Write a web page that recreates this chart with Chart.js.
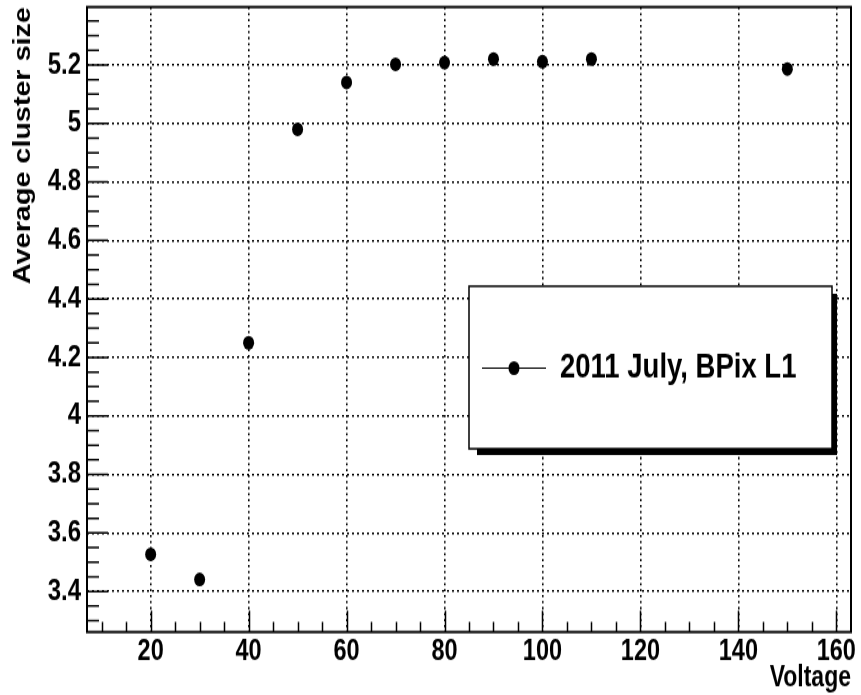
<!DOCTYPE html>
<html>
<head>
<meta charset="utf-8">
<script src="https://cdn.jsdelivr.net/npm/chart.js@4.4.1/dist/chart.umd.min.js"></script>
<style>
  html, body { margin: 0; padding: 0; background: #fff; }
</style>
</head>
<body>
<!-- the original plot was stretched vertically, so the canvas is drawn short and shown tall -->
<canvas id="mycanvas" width="861" height="556" style="display:block;width:861px;height:695px"></canvas>
<script>
// data
var voltage = [20, 30, 40, 50, 60, 70, 80, 90, 100, 110, 150];
var clusterSize = [3.527, 3.441, 4.25, 4.98, 5.14, 5.202, 5.208, 5.22, 5.211, 5.22, 5.186];
var seriesLabel = "2011 July, BPix L1";

var xTicks = [20, 40, 60, 80, 100, 120, 140, 160];
var yTicks = [3.4, 3.6, 3.8, 4, 4.2, 4.4, 4.6, 4.8, 5, 5.2];
var xMinorStep = 5;
var yMinorStep = 0.05;

var font = "'Liberation Sans', Arial, Helvetica, sans-serif";

var frameAndTicks = {
  id: 'frameAndTicks',
  afterDatasetsDraw: function(chart) {
    var ctx = chart.ctx, a = chart.chartArea;
    var xs = chart.scales.x, ys = chart.scales.y;
    ctx.save();
    ctx.strokeStyle = '#000';
    ctx.lineWidth = 1.5;
    ctx.beginPath();
    var v;
    for (v = Math.ceil(xs.min / xMinorStep) * xMinorStep; v <= xs.max; v += xMinorStep) {
      var px = Math.round(xs.getPixelForValue(v)) + 0.5;
      var len = xTicks.indexOf(v) >= 0 ? 17 : 8;
      ctx.moveTo(px, a.bottom);
      ctx.lineTo(px, a.bottom - len);
    }
    var n0 = Math.ceil(ys.min / yMinorStep), n1 = Math.floor(ys.max / yMinorStep);
    for (var n = n0; n <= n1; n++) {
      v = n * yMinorStep;
      var py = ys.getPixelForValue(v);
      var major = n % 4 === 0;
      ctx.moveTo(a.left, py);
      ctx.lineTo(a.left + (major ? 21 : 12), py);
    }
    ctx.stroke();
    ctx.lineWidth = 2;
    ctx.strokeRect(a.left, a.top, a.right - a.left, a.bottom - a.top);
    ctx.restore();
  }
};

var boxLegend = {
  id: 'boxLegend',
  afterDraw: function(chart) {
    var ctx = chart.ctx;
    var bx = 469, by = 229, bw = 363, bh = 130;
    ctx.save();
    ctx.fillStyle = '#000';
    ctx.fillRect(bx + 8, by + 6, bw - 3, bh - 1);
    ctx.fillStyle = '#fff';
    ctx.fillRect(bx, by, bw, bh);
    ctx.strokeStyle = '#000';
    ctx.lineWidth = 1.5;
    ctx.strokeRect(bx, by, bw, bh);
    var cy = by + 65.5;
    ctx.lineWidth = 1.2;
    ctx.beginPath();
    ctx.moveTo(bx + 13, cy);
    ctx.lineTo(bx + 77, cy);
    ctx.stroke();
    ctx.fillStyle = '#000';
    ctx.beginPath();
    ctx.arc(bx + 45, cy, 5.5, 0, Math.PI * 2);
    ctx.fill();
    ctx.font = "bold 27.5px " + font;
    ctx.textBaseline = 'alphabetic';
    ctx.fillText(chart.data.datasets[0].label, bx + 91, cy + 7.5);
    ctx.restore();
  }
};

var chartdata = {
  datasets: [
    {
      label: seriesLabel,
      data: voltage.map(function(v, i) { return {x: v, y: clusterSize[i]}; }),
      showLine: false,
      pointStyle: 'circle',
      pointRadius: 5.5,
      borderWidth: 0,
      backgroundColor: '#000',
      borderColor: '#000'
    }
  ]
};

var ctx = document.getElementById('mycanvas');

var ScatterGraph = new Chart(ctx, {
  type: 'scatter',
  data: chartdata,
  plugins: [frameAndTicks, boxLegend],
  options: {
    responsive: false,
    animation: false,
    devicePixelRatio: 1,
    layout: { padding: { top: 5.6, right: 10, left: 0, bottom: 0 } },
    plugins: { legend: { display: false }, tooltip: { enabled: false } },
    scales: {
      x: {
        type: 'linear',
        min: 7,
        max: 163,
        afterBuildTicks: function(s) { s.ticks = xTicks.map(function(v) { return {value: v}; }); },
        afterFit: function(s) { s.height = 50.4; s.paddingLeft = 0; s.paddingRight = 0; },
        grid: { color: '#000', lineWidth: 1.6, drawTicks: false, borderDash: [1.8, 3] },
        border: { display: false, dash: [1.8, 3] },
        ticks: {
          color: '#000',
          padding: 2,
          maxRotation: 0,
          font: { family: font, size: 23.5, weight: 'bold' },
          callback: function(v) { return String(v); }
        },
        title: {
          display: true,
          text: 'Voltage',
          align: 'end',
          color: '#000',
          padding: { top: 0, bottom: 0 },
          font: { family: font, size: 23, weight: 'bold' }
        }
      },
      y: {
        type: 'linear',
        min: 3.2614,
        max: 5.398,
        afterBuildTicks: function(s) { s.ticks = yTicks.map(function(v) { return {value: v}; }); },
        afterFit: function(s) { s.width = 87; s.paddingTop = 0; s.paddingBottom = 0; },
        grid: { color: '#000', lineWidth: 1.6, drawTicks: false, borderDash: [2, 3] },
        border: { display: false, dash: [2, 3] },
        ticks: {
          color: '#000',
          padding: 6,
          font: { family: font, size: 24, weight: 'bold' },
          callback: function(v) { return String(v); }
        },
        title: {
          display: true,
          text: 'Average cluster size',
          align: 'end',
          color: '#000',
          padding: { top: 10, bottom: 0 },
          font: { family: font, size: 23, weight: 'bold' }
        }
      }
    }
  }
});
</script>
</body>
</html>
